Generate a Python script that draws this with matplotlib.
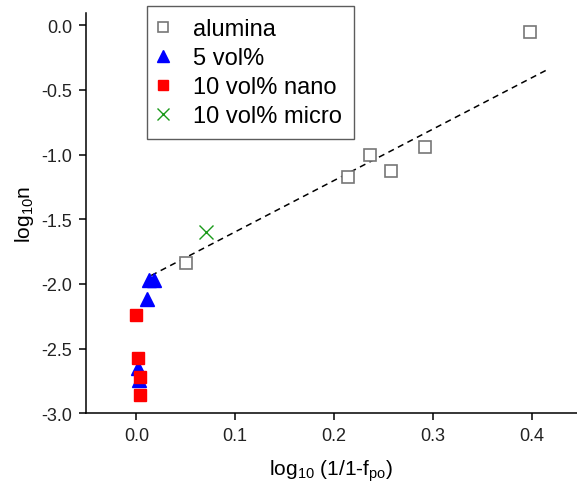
import numpy as np
import matplotlib.pyplot as plt

plt.rcParams['font.family'] = ['Liberation Sans', 'DejaVu Sans']
plt.rcParams['mathtext.fontset'] = 'custom'
plt.rcParams['mathtext.rm'] = 'Liberation Sans'
plt.rcParams['mathtext.it'] = 'Liberation Sans'

# values
alumina_x = [0.050, 0.214, 0.236, 0.258, 0.292, 0.398]
alumina_y = [-1.84, -1.17, -1.00, -1.13, -0.94, -0.05]
vol5_x = [0.0125, 0.018, 0.0105, 0.0013, 0.003]
vol5_y = [-1.97, -1.97, -2.12, -2.65, -2.74]
nano_x = [0.0, 0.002, 0.004, 0.004]
nano_y = [-2.24, -2.57, -2.72, -2.86]
micro_x = [0.070]
micro_y = [-1.60]

# linear fit shown as dashed line
fit_slope = 3.97
fit_intercept = -1.995
fit_range = [0.015, 0.415]

fig = plt.figure(figsize=(5.77, 4.89), dpi=100)
ax = fig.add_axes([0.149, 0.153, 0.851, 0.818])

fx = np.array(fit_range)
ax.plot(fx, fit_intercept + fit_slope * fx, ls=(0, (4, 3)), color='black', lw=1.1, zorder=1)

ax.plot(alumina_x, alumina_y, 's', ms=8.5, mfc='white', mec='#777777', mew=1.2,
        ls='none', label='alumina')
ax.plot(vol5_x, vol5_y, '^', ms=10.5, color='blue', ls='none', label='5 vol%')
ax.plot(nano_x, nano_y, 's', ms=8, color='red', ls='none', label='10 vol% nano')
ax.plot(micro_x, micro_y, 'x', ms=10.5, mew=1.0, color='#1a9a1a', ls='none',
        label='10 vol% micro')

ax.set_xlim(-0.051, 0.446)
ax.set_ylim(-3.0, 0.093)
ax.set_xticks([0.0, 0.1, 0.2, 0.3, 0.4])
ax.set_yticks([0.0, -0.5, -1.0, -1.5, -2.0, -2.5, -3.0])
ax.xaxis.set_major_formatter(plt.FormatStrFormatter('%.1f'))
ax.yaxis.set_major_formatter(plt.FormatStrFormatter('%.1f'))

for s in ['top', 'right']:
    ax.spines[s].set_visible(False)
for s in ['left', 'bottom']:
    ax.spines[s].set_linewidth(1.1)
ax.tick_params(direction='out', length=5, width=1.1, labelsize=13, color='black',
               labelcolor='#222222', pad=5)

ax.set_xlabel(r'log$_{10}$ (1/1-f$_{\mathrm{po}}$)', fontsize=15, labelpad=10)
ax.set_ylabel(r'log$_{10}$n', fontsize=15, labelpad=4)

leg = ax.legend(loc='upper left', bbox_to_anchor=(0.124, 1.018), borderaxespad=0,
                fontsize=17, frameon=True, fancybox=False, handlelength=0.4,
                handletextpad=1.05, labelspacing=0.3, borderpad=0.5,
                markerscale=0.85)
leg.get_frame().set_edgecolor('#333333')
leg.get_frame().set_linewidth(1.0)

fig.savefig('out.png', dpi=100)
